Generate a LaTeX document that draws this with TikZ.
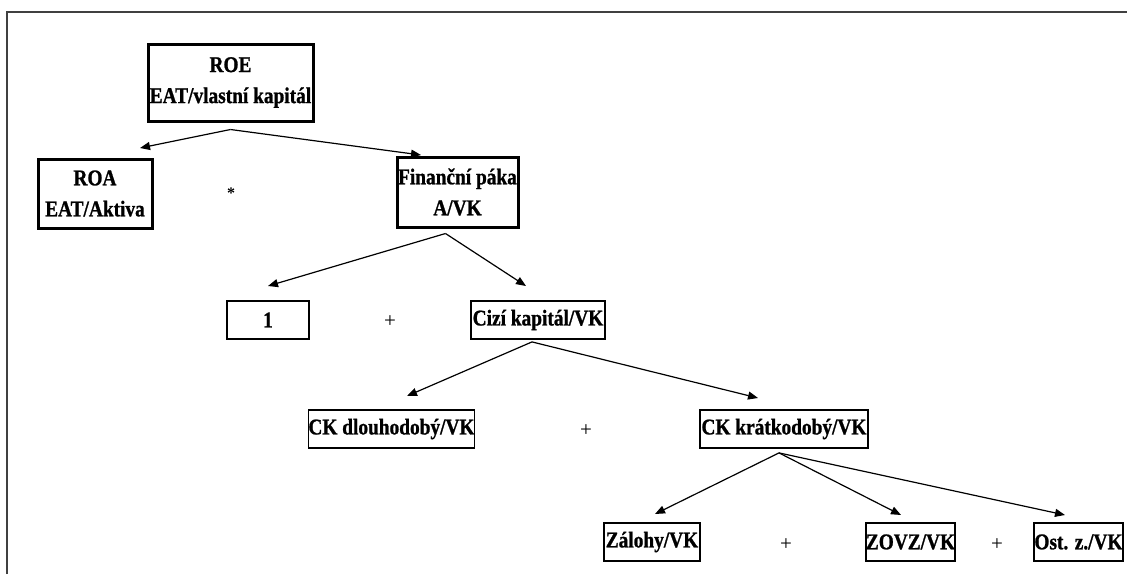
\documentclass[tikz,border=0pt]{standalone}
\usepackage{fontspec}
\setmainfont{Liberation Serif}
\newfontfamily\boxfont[FakeStretch=0.86, BoldFeatures={FakeBold=1}]{Liberation Serif}
\usetikzlibrary{arrows.meta,calc}

\begin{document}
\begin{tikzpicture}[x=1pt,y=-1pt,
  box/.style={draw, line width=1.8pt, inner sep=0pt, align=center,
    font=\boxfont\bfseries\fontsize{22.5}{31}\selectfont},
  heavybox/.style={box, line width=3pt},
  link/.style={line width=1.2pt, -{Triangle[length=10pt,width=8pt]}},
  op/.style={inner sep=0pt, font=\fontsize{21}{21}\selectfont},
  frameline/.style={line width=2pt, black!75}
]
\useasboundingbox (0,0) rectangle (1127,574);

% outer frame (top and left edges)
\draw[frameline] (7,574) -- (7,11.5) -- (1127,11.5);

% level 1
\node[heavybox, minimum width=165pt, minimum height=77pt] (roe) at (230.5,82.5) {ROE\\EAT/vlastní kapitál};

% level 2
\node[heavybox, minimum width=114pt, minimum height=69pt] (roa) at (95,193.5) {ROA\\EAT/Aktiva};
\node[op, font=\bfseries\fontsize{16}{16}\selectfont] (times) at (231,193) {*};
\node[heavybox, minimum width=121pt, minimum height=70pt] (fin) at (457.5,192) {Finanční páka\\A/VK};

% level 3
\node[box, minimum width=82pt, minimum height=38pt] (one) at (268,320) {1};
\node[op] (plusA) at (390,322) {+};
\node[box, minimum width=134pt, minimum height=38pt] (cizi) at (538,320) {Cizí kapitál/VK};

% level 4
\node[box, minimum width=163pt, minimum height=38pt] (ckd) at (391.5,429) {CK dlouhodobý/VK};
\node[op] (plusB) at (586,431) {+};
\node[box, minimum width=168pt, minimum height=38pt] (ckk) at (784,429) {CK krátkodobý/VK};

% level 5
\node[box, minimum width=96pt, minimum height=38pt] (zal) at (652,542) {Zálohy/VK};
\node[op] (plusC) at (786,545) {+};
\node[box, minimum width=85pt, minimum height=38pt] (zovz) at (910.5,542) {ZOVZ/VK};
\node[op] (plusD) at (997,545) {+};
\node[box, minimum width=89pt, minimum height=38pt] (ost) at (1078.5,542) {Ost. z./VK};

% branch points below the parent boxes
\coordinate (roe-out)  at ($(roe.south)+(0,7)$);
\coordinate (fin-out)  at ($(fin.south)+(-12,5)$);
\coordinate (cizi-out) at ($(cizi.south)+(-6,2)$);
\coordinate (ckk-out)  at ($(ckk.south)+(-5,4)$);

% arrow ends above the child boxes
\coordinate (roa-in)  at (140,148);
\coordinate (fin-in)  at (421,155);
\coordinate (one-in)  at (268,286);
\coordinate (cizi-in) at (526,286);
\coordinate (ckd-in)  at (407,396);
\coordinate (ckk-in)  at (758,398);
\coordinate (zal-in)  at (655,514);
\coordinate (zovz-in) at (901,515);
\coordinate (ost-in)  at (1065,515);

\draw[link] (roe-out) -- (roa-in);
\draw[link] (roe-out) -- (fin-in);
\draw[link] (fin-out) -- (one-in);
\draw[link] (fin-out) -- (cizi-in);
\draw[link] (cizi-out) -- (ckd-in);
\draw[link] (cizi-out) -- (ckk-in);
\draw[link] (ckk-out) -- (zal-in);
\draw[link] (ckk-out) -- (zovz-in);
\draw[link] (ckk-out) -- (ost-in);
\end{tikzpicture}
\end{document}
